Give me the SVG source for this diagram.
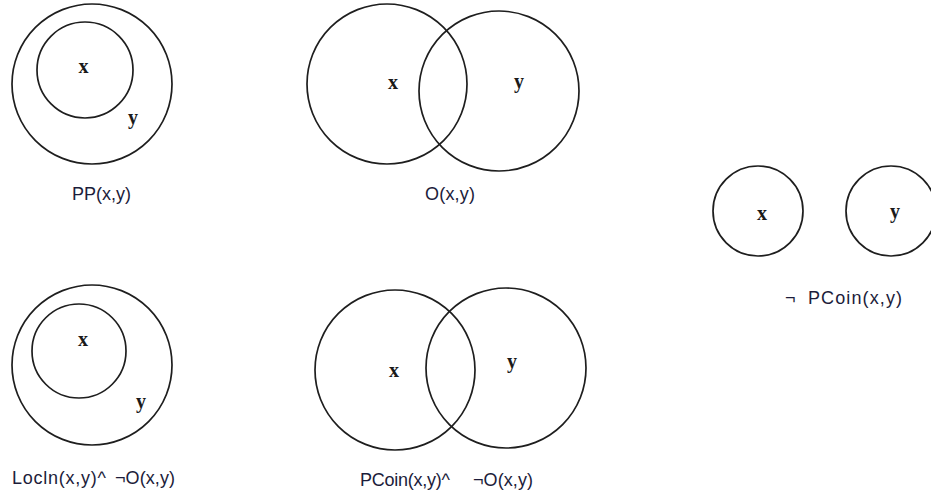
<svg xmlns="http://www.w3.org/2000/svg" width="931" height="495" viewBox="0 0 931 495">
<style>
.c{fill:none;stroke:#1e1e1e;stroke-width:1.7}
.v{font-family:"Liberation Serif","Times New Roman",serif;font-size:20px;font-weight:bold;fill:#1a1a1a;text-anchor:middle}
.l{font-family:"Liberation Sans",Arial,sans-serif;font-size:18px;fill:#1c1c3a}
</style>
<rect width="931" height="495" fill="#fff"/>
<g id="pp">
<circle class="c" cx="92" cy="84" r="80"/>
<circle class="c" cx="85" cy="70" r="48"/>
<text class="v" x="83.5" y="73">x</text>
<text class="v" x="133" y="124">y</text>
<text class="l" x="72" y="200" textLength="59">PP(x,y)</text>
</g>
<g id="o">
<circle class="c" cx="387" cy="84" r="80"/>
<circle class="c" cx="499" cy="91" r="80"/>
<text class="v" x="393" y="89">x</text>
<text class="v" x="519" y="88">y</text>
<text class="l" x="425" y="200" textLength="50">O(x,y)</text>
</g>
<g id="npcoin">
<circle class="c" cx="758" cy="211" r="45"/>
<circle class="c" cx="891" cy="211" r="45"/>
<text class="v" x="762" y="220">x</text>
<text class="v" x="895" y="218">y</text>
<text class="l" y="304"><tspan x="785">¬</tspan><tspan x="808" textLength="94">PCoin(x,y)</tspan></text>
</g>
<g id="locin">
<circle class="c" cx="92" cy="365" r="80"/>
<circle class="c" cx="79" cy="351" r="47"/>
<text class="v" x="83" y="346">x</text>
<text class="v" x="141" y="408">y</text>
<text class="l" y="484"><tspan x="12" textLength="94">Locln(x,y)^</tspan><tspan x="115" textLength="60">¬O(x,y)</tspan></text>
</g>
<g id="pcoin">
<circle class="c" cx="395" cy="370" r="80"/>
<circle class="c" cx="506" cy="368" r="80"/>
<text class="v" x="394" y="377">x</text>
<text class="v" x="512" y="368">y</text>
<text class="l" y="486"><tspan x="360" textLength="90">PCoin(x,y)^</tspan><tspan x="473" textLength="60">¬O(x,y)</tspan></text>
</g>
<g id="connectors"/>
</svg>
